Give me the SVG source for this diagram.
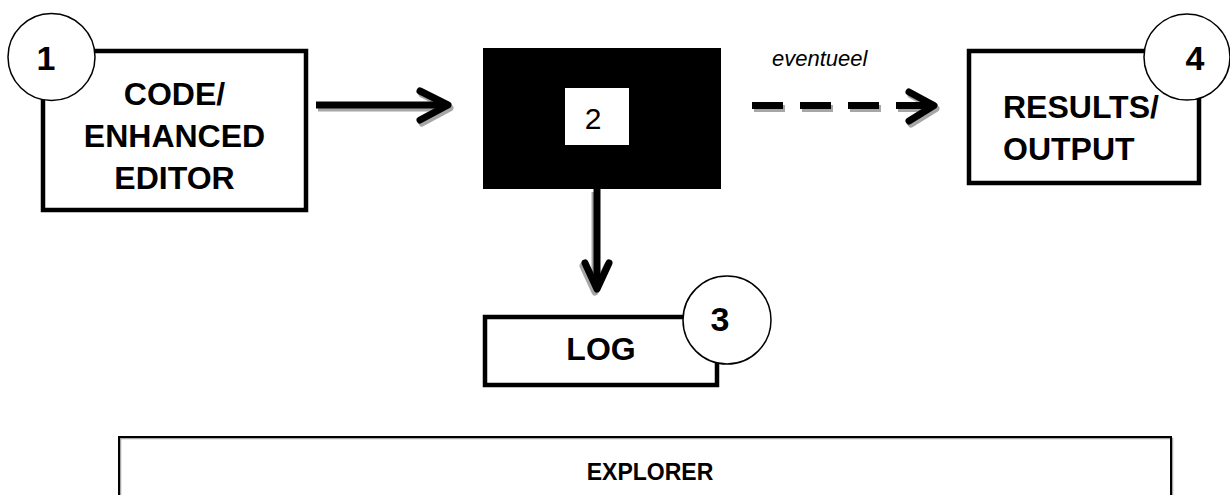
<svg xmlns="http://www.w3.org/2000/svg" width="1230" height="495" viewBox="0 0 1230 495">
  <style>
    .box { fill: #ffffff; stroke: #000000; stroke-width: 4.5; }
    .badge { fill: #ffffff; stroke: #000000; stroke-width: 1.5; }
    .lbl { font-family: "Liberation Sans", Arial, sans-serif; font-weight: bold; font-size: 32px; fill: #000000; }
    .num { font-family: "Liberation Sans", Arial, sans-serif; font-weight: bold; font-size: 34px; fill: #000000; text-anchor: middle; }
    .wire { fill: none; stroke: #000000; stroke-width: 7; }
    .head { fill: none; stroke: #000000; stroke-width: 7; stroke-linecap: round; stroke-linejoin: round; }
    .shadow .wire, .shadow .head { stroke: #a6a6a6; }
  </style>
  <rect width="1230" height="495" fill="#ffffff"/>

  <!-- connectors: shadow layer first, then the black strokes -->
  <g id="connectors">
    <g class="shadow" transform="translate(2,3)">
      <line class="wire" x1="316" y1="105" x2="446" y2="105"/>
      <polyline class="head" points="420,91 448,105 420,120"/>
      <line class="wire" x1="752" y1="105.5" x2="930" y2="105.5" stroke-dasharray="31 17"/>
      <polyline class="head" points="909,92 934,105.5 909,121"/>
    </g>
    <g class="shadow" transform="translate(-2,3)">
      <line class="wire" x1="597" y1="189" x2="597" y2="287"/>
      <polyline class="head" points="585,263 597,289 609,263"/>
    </g>
    <line class="wire" x1="316" y1="105" x2="446" y2="105"/>
    <polyline class="head" points="420,91 448,105 420,120"/>
    <line class="wire" x1="752" y1="105.5" x2="930" y2="105.5" stroke-dasharray="31 17"/>
    <polyline class="head" points="909,92 934,105.5 909,121"/>
    <line class="wire" x1="597" y1="189" x2="597" y2="287"/>
    <polyline class="head" points="585,263 597,289 609,263"/>
    <text x="772" y="66" font-family="'Liberation Sans', Arial, sans-serif" font-style="italic" font-size="22" fill="#000000">eventueel</text>
  </g>

  <!-- 1: code / enhanced editor -->
  <g id="node-editor">
    <rect class="box" x="43" y="51" width="263" height="159"/>
    <text class="lbl" x="174.5" y="105" text-anchor="middle">CODE/</text>
    <text class="lbl" x="174.5" y="147" text-anchor="middle">ENHANCED</text>
    <text class="lbl" x="174.5" y="189" text-anchor="middle">EDITOR</text>
    <circle class="badge" cx="51.5" cy="57" r="43.5"/>
    <text class="num" x="46" y="70">1</text>
  </g>

  <!-- 2: black processing block -->
  <g id="node-engine">
    <rect x="483" y="48" width="238" height="141" fill="#000000"/>
    <rect x="565" y="88" width="64" height="57" fill="#ffffff"/>
    <text x="593" y="129" text-anchor="middle" font-family="'Liberation Sans', Arial, sans-serif" font-size="30" fill="#000000">2</text>
  </g>

  <!-- 3: log -->
  <g id="node-log">
    <rect class="box" x="485" y="317" width="232" height="68"/>
    <text class="lbl" x="601" y="360" text-anchor="middle">LOG</text>
    <circle class="badge" cx="727" cy="320" r="44"/>
    <text class="num" x="720" y="331">3</text>
  </g>

  <!-- 4: results / output -->
  <g id="node-results">
    <rect class="box" x="969" y="51" width="230" height="132"/>
    <text class="lbl" x="1003" y="118">RESULTS/</text>
    <text class="lbl" x="1003" y="160">OUTPUT</text>
    <circle class="badge" cx="1187" cy="57" r="43"/>
    <text class="num" x="1195" y="70">4</text>
  </g>

  <!-- explorer panel, runs past the bottom edge -->
  <g id="node-explorer">
    <rect x="120.5" y="438.5" width="1052" height="80" fill="none" stroke="#a6a6a6" stroke-width="1.5"/>
    <rect x="119" y="437" width="1052" height="80" fill="none" stroke="#000000" stroke-width="2"/>
    <text x="650" y="480" text-anchor="middle" font-family="'Liberation Sans', Arial, sans-serif" font-weight="bold" font-size="23" fill="#000000">EXPLORER</text>
  </g>
</svg>
